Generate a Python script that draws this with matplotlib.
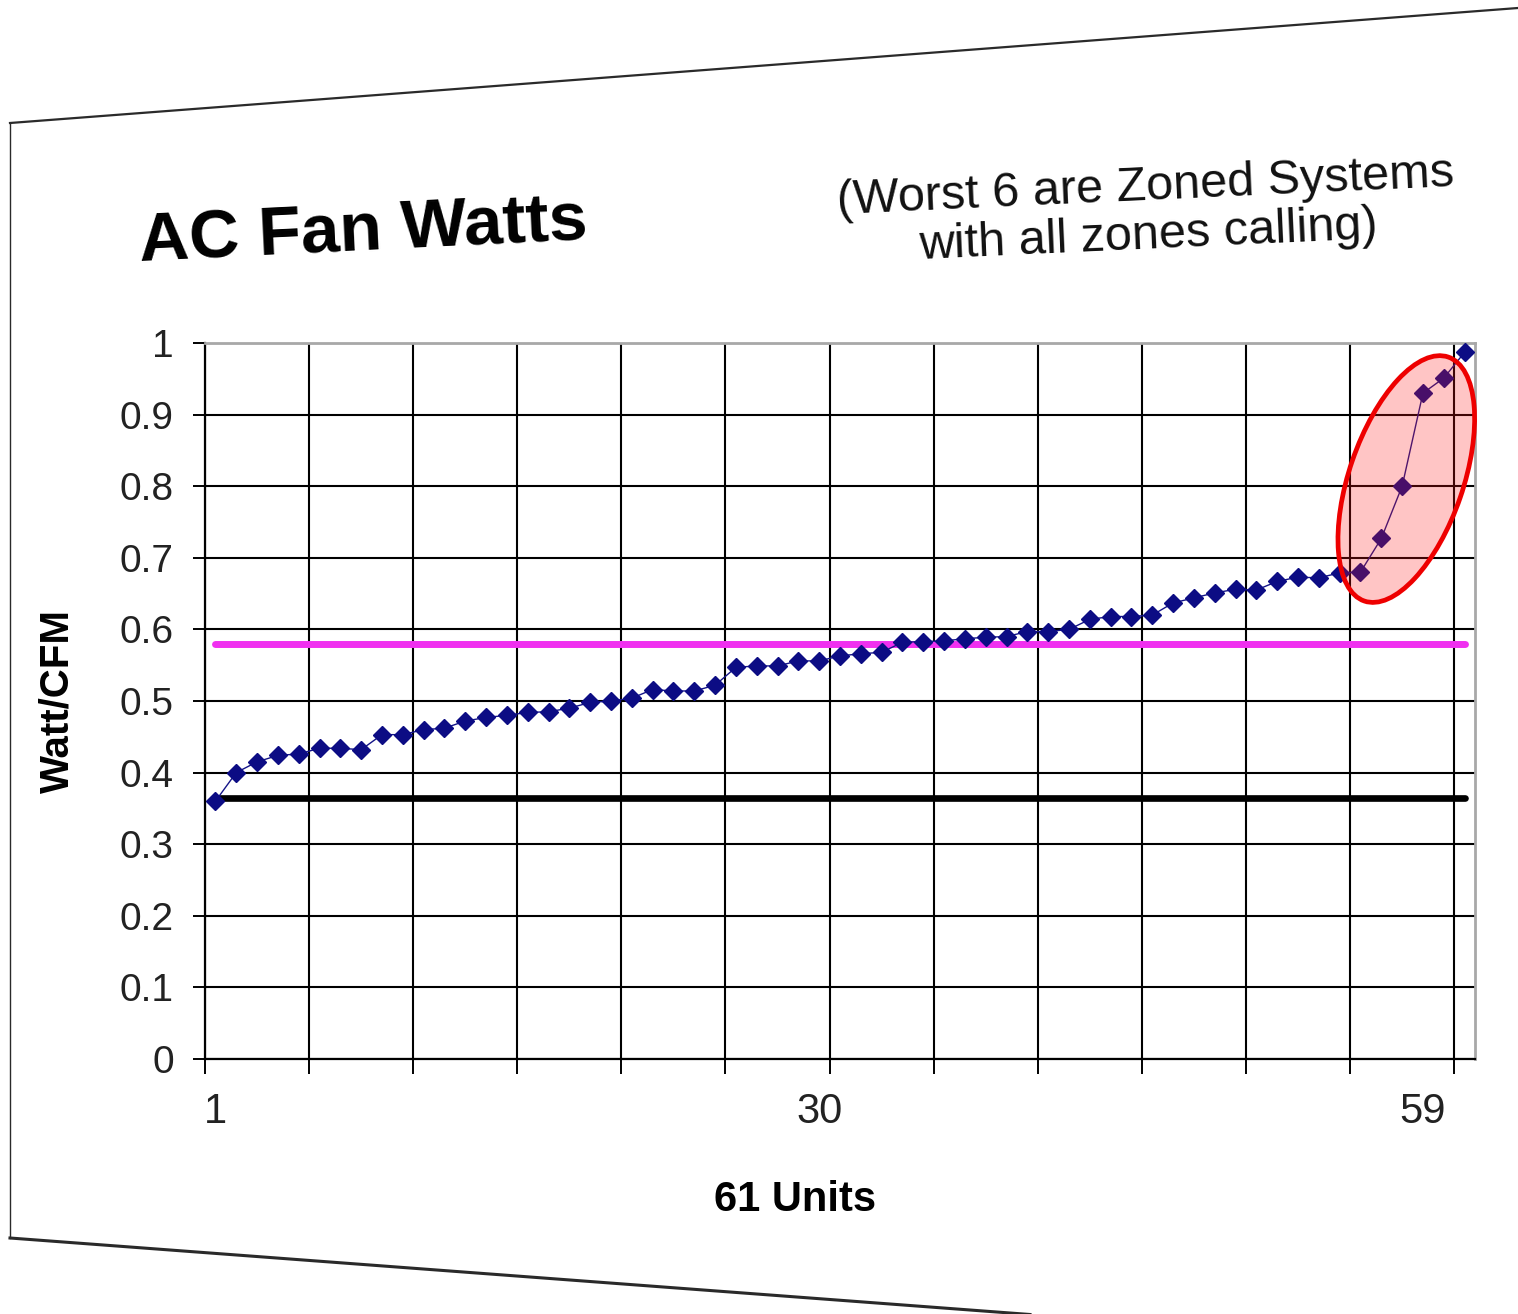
import numpy as np
import matplotlib
matplotlib.use("Agg")
import matplotlib.pyplot as plt
from matplotlib.patches import Ellipse
from matplotlib.lines import Line2D
from matplotlib import transforms as mtransforms
from matplotlib.ticker import FixedLocator, FixedFormatter

plt.rcParams['font.family'] = ['Liberation Sans', 'DejaVu Sans']

# ---------------- data ----------------
units = list(range(1, 62))
watt_per_cfm = [
    0.360, 0.400, 0.415, 0.424, 0.426, 0.434, 0.434, 0.432, 0.453, 0.453,
    0.460, 0.462, 0.472, 0.477, 0.480, 0.484, 0.485, 0.490, 0.498, 0.500,
    0.504, 0.516, 0.514, 0.514, 0.522, 0.547, 0.549, 0.549, 0.556, 0.556,
    0.563, 0.566, 0.568, 0.582, 0.583, 0.584, 0.587, 0.589, 0.590, 0.597,
    0.597, 0.600, 0.614, 0.618, 0.618, 0.620, 0.637, 0.644, 0.651, 0.656,
    0.655, 0.667, 0.673, 0.672, 0.679, 0.680, 0.727, 0.800, 0.930, 0.951,
    0.987,
]
magenta_level = 0.58
black_level = 0.365
y_ticks = [0, 0.1, 0.2, 0.3, 0.4, 0.5, 0.6, 0.7, 0.8, 0.9, 1]
y_tick_labels = ["0", "0.1", "0.2", "0.3", "0.4", "0.5", "0.6", "0.7", "0.8", "0.9", "1"]
x_label_ticks = [1, 30, 59]
x_label_text = ["1", "30", "59"]
x_grid_ticks = [0.5, 5.5, 10.5, 15.5, 20.5, 25.5, 30.5, 35.5, 40.5, 45.5, 50.5, 55.5, 60.5]
worst_center = (58.2, 0.81)

title = "AC Fan Watts"
subtitle = "(Worst 6 are Zoned Systems\nwith all zones calling)"
y_label = "Watt/CFM"
x_label = "61 Units"

# ---------------- figure ----------------
W, H, DPI = 1518, 1314, 100
fig = plt.figure(figsize=(W / DPI, H / DPI), dpi=DPI)
fig.patch.set_facecolor("white")

# page outline (slide edge)
page_col = "#2a2a2a"
fig.add_artist(Line2D([10 / W, 1518 / W], [1 - 123 / H, 1 - 8 / H],
                      transform=fig.transFigure, color=page_col, lw=1.6))
fig.add_artist(Line2D([10 / W, 10 / W], [1 - 123 / H, 1 - 1238 / H],
                      transform=fig.transFigure, color=page_col, lw=1.0))
fig.add_artist(Line2D([10 / W, 1030 / W], [1 - 1238 / H, 1 - 1314.5 / H],
                      transform=fig.transFigure, color=page_col, lw=2.2))

ax = fig.add_axes([205 / W, 1 - 1059 / H, (1475 - 205) / W, (1059 - 343) / H])

# reference lines
ax.plot([units[0], units[-1]], [magenta_level, magenta_level],
        color="#f030f0", lw=5.0, solid_capstyle="round", zorder=2)
ax.plot([units[0], units[-1]], [black_level, black_level],
        color="black", lw=4.8, solid_capstyle="round", zorder=2)

# data series
ax.plot(units, watt_per_cfm, color="#141488", lw=1.0, marker="D",
        markersize=9, markerfacecolor="#0c0c84", markeredgecolor="#0c0c84",
        zorder=3, clip_on=False)

# highlight ellipse around the worst six (sizes in pixels)
trans = mtransforms.IdentityTransform() + mtransforms.ScaledTranslation(
    worst_center[0], worst_center[1], ax.transData)
ell = Ellipse((0, 0), 258, 114, angle=71, transform=trans,
              facecolor=(1.0, 0.1, 0.1, 0.25), edgecolor="#ee0000",
              lw=3.4, zorder=4, clip_on=False)
ax.add_artist(ell)

# axes limits & ticks
ax.set_xlim(0.5, 61.5)
ax.set_ylim(0, 1)
ax.set_axisbelow(True)

ax.yaxis.set_major_locator(FixedLocator(y_ticks))
ax.yaxis.set_major_formatter(FixedFormatter(y_tick_labels))
ax.xaxis.set_major_locator(FixedLocator(x_grid_ticks))
ax.xaxis.set_major_formatter(FixedFormatter([""] * len(x_grid_ticks)))
ax.xaxis.set_minor_locator(FixedLocator(x_label_ticks))
ax.xaxis.set_minor_formatter(FixedFormatter(x_label_text))

ax.tick_params(axis="y", which="major", direction="out", length=8.5, width=1.4,
               color="black", labelsize=28, labelcolor="#222222", pad=14)
ax.tick_params(axis="x", which="major", direction="out", length=11, width=1.4,
               color="black")
ax.tick_params(axis="x", which="minor", length=0, labelsize=30,
               labelcolor="#222222", pad=24)

ax.grid(True, which="major", color="black", lw=1.5)

for side in ("left", "bottom"):
    ax.spines[side].set_color("black")
    ax.spines[side].set_linewidth(1.6)
for side in ("top", "right"):
    ax.spines[side].set_color("#a8a8a8")
    ax.spines[side].set_linewidth(2.0)

ax.set_ylabel(y_label, fontsize=29, fontweight="bold")
ax.yaxis.set_label_coords(-0.1016, 0.5)
ax.set_xlabel(x_label, fontsize=30, fontweight="bold")
ax.xaxis.set_label_coords(0.4646, -0.169)

# titles
fig.text(140 / W, 1 - 262 / H, title, fontsize=50, fontweight="bold",
         ha="left", va="baseline", rotation=2.8, rotation_mode="anchor")
fig.text(1147 / W, 1 - 212 / H, subtitle, fontsize=35, ha="center",
         va="center", multialignment="center", linespacing=1.1,
         rotation=2.6, rotation_mode="anchor", color="#111111")

fig.savefig("out.png", dpi=DPI, facecolor="white")
